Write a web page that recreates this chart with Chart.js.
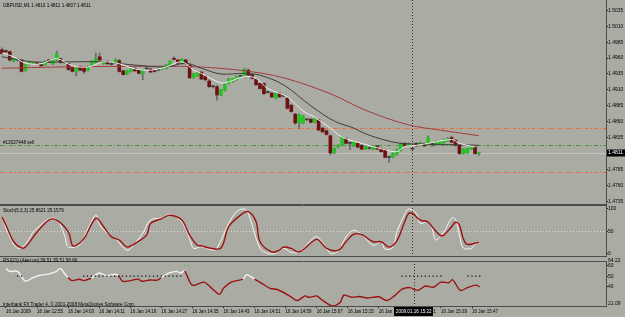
<!DOCTYPE html>
<html>
<head>
<meta charset="utf-8">
<title>GBPUSD,M1</title>
<script src="https://cdn.jsdelivr.net/npm/chart.js@4.4.1/dist/chart.umd.min.js"></script>
<style>
  html, body { margin:0; padding:0; width:625px; height:317px; overflow:hidden; background:#aaaca4; }
  canvas { position:absolute; left:0; display:block; }
  #mainCv { top:0; }
  #stochCv { top:205px; }
  #rsiCv { top:257px; }
</style>
</head>
<body>
<canvas id="mainCv" width="625" height="205"></canvas>
<canvas id="stochCv" width="625" height="52"></canvas>
<canvas id="rsiCv" width="625" height="60"></canvas>
<script>
/* MT4 style GBPUSD M1 chart: candles + 3 MAs, Stoch(5,3,3), RSI(21) */
(function(){
  // ---- price data, one entry per M1 bar ----
  const symbol = 'GBPUSD', period = 'M1';
  const opens = [
    1.4973,1.4971,1.4970,1.4955,1.4957,1.4957,1.4940,1.4950,1.4951,1.4952,
    1.4950,1.4949,1.4957,1.4951,1.4957,1.4959,1.4953,1.4951,1.4945,1.4938,
    1.4947,1.4946,1.4941,1.4949,1.4953,1.4962,1.4951,1.4955,1.4950,1.4953,
    1.4956,1.4940,1.4935,1.4939,1.4944,1.4941,1.4935,1.4943,1.4943,1.4941,
    1.4941,1.4943,1.4944,1.4949,1.4959,1.4957,1.4951,1.4957,1.4949,1.4929,
    1.4932,1.4938,1.4932,1.4924,1.4915,1.4915,1.4902,1.4909,1.4920,1.4923,
    1.4926,1.4931,1.4931,1.4941,1.4934,1.4927,1.4920,1.4920,1.4906,1.4905,
    1.4897,1.4905,1.4900,1.4897,1.4886,1.4872,1.4858,1.4858,1.4863,1.4864,
    1.4859,1.4863,1.4850,1.4846,1.4838,1.4811,1.4820,1.4823,1.4834,1.4826,
    1.4822,1.4826,1.4823,1.4817,1.4818,1.4817,1.4822,1.4818,1.4816,1.4804,
    1.4804,1.4809,1.4815,1.4826,1.4823,1.4817,1.4826,1.4823,1.4826,1.4824,
    1.4826,1.4824,1.4826,1.4827,1.4830,1.4835,1.4831,1.4823,1.4810,1.4811,
    1.4817,1.4820,1.4810
  ];
  const highs = [
    1.4976,1.4973,1.4971,1.4959,1.4958,1.4958,1.4951,1.4954,1.4953,1.4953,
    1.4951,1.4956,1.4958,1.4959,1.4971,1.4960,1.4955,1.4952,1.4946,1.4946,
    1.4948,1.4947,1.4948,1.4956,1.4968,1.4968,1.4955,1.4956,1.4951,1.4959,
    1.4958,1.4941,1.4941,1.4944,1.4945,1.4942,1.4942,1.4944,1.4944,1.4942,
    1.4942,1.4947,1.4950,1.4956,1.4962,1.4958,1.4959,1.4958,1.4950,1.4936,
    1.4938,1.4939,1.4933,1.4926,1.4917,1.4917,1.4911,1.4920,1.4928,1.4928,
    1.4932,1.4933,1.4944,1.4943,1.4935,1.4928,1.4921,1.4921,1.4907,1.4906,
    1.4906,1.4906,1.4902,1.4898,1.4887,1.4873,1.4872,1.4870,1.4864,1.4865,
    1.4866,1.4864,1.4851,1.4847,1.4839,1.4819,1.4824,1.4837,1.4835,1.4828,
    1.4829,1.4827,1.4824,1.4822,1.4819,1.4823,1.4823,1.4819,1.4817,1.4805,
    1.4811,1.4817,1.4827,1.4827,1.4827,1.4819,1.4827,1.4828,1.4827,1.4838,
    1.4827,1.4830,1.4830,1.4833,1.4835,1.4837,1.4832,1.4824,1.4818,1.4819,
    1.4822,1.4821,1.4811
  ];
  const lows = [
    1.4966,1.4968,1.4955,1.4954,1.4955,1.4938,1.4939,1.4949,1.4950,1.4950,
    1.4947,1.4948,1.4953,1.4950,1.4956,1.4952,1.4952,1.4941,1.4938,1.4932,
    1.4940,1.4936,1.4940,1.4948,1.4952,1.4956,1.4950,1.4950,1.4949,1.4952,
    1.4938,1.4933,1.4934,1.4938,1.4939,1.4935,1.4926,1.4942,1.4937,1.4938,
    1.4940,1.4942,1.4943,1.4948,1.4957,1.4951,1.4950,1.4950,1.4928,1.4928,
    1.4931,1.4926,1.4924,1.4914,1.4913,1.4894,1.4901,1.4908,1.4919,1.4922,
    1.4925,1.4930,1.4930,1.4932,1.4927,1.4917,1.4911,1.4903,1.4905,1.4898,
    1.4896,1.4898,1.4899,1.4880,1.4875,1.4856,1.4850,1.4857,1.4862,1.4858,
    1.4858,1.4846,1.4843,1.4839,1.4808,1.4810,1.4819,1.4822,1.4825,1.4816,
    1.4821,1.4819,1.4816,1.4816,1.4817,1.4816,1.4816,1.4812,1.4803,1.4796,
    1.4803,1.4808,1.4814,1.4821,1.4822,1.4816,1.4821,1.4822,1.4821,1.4823,
    1.4821,1.4823,1.4825,1.4826,1.4829,1.4827,1.4822,1.4809,1.4809,1.4810,
    1.4816,1.4809,1.4807
  ];
  const closes = [
    1.4967,1.4970,1.4957,1.4958,1.4957,1.4939,1.4949,1.4953,1.4952,1.4951,
    1.4948,1.4955,1.4954,1.4958,1.4967,1.4953,1.4953,1.4942,1.4939,1.4945,
    1.4941,1.4939,1.4947,1.4955,1.4959,1.4957,1.4954,1.4951,1.4950,1.4957,
    1.4939,1.4934,1.4940,1.4943,1.4940,1.4936,1.4941,1.4943,1.4938,1.4939,
    1.4941,1.4946,1.4949,1.4955,1.4958,1.4952,1.4958,1.4951,1.4929,1.4935,
    1.4937,1.4927,1.4926,1.4915,1.4915,1.4902,1.4910,1.4919,1.4927,1.4927,
    1.4931,1.4931,1.4942,1.4933,1.4928,1.4918,1.4912,1.4904,1.4906,1.4899,
    1.4905,1.4899,1.4900,1.4881,1.4876,1.4858,1.4871,1.4869,1.4863,1.4859,
    1.4865,1.4847,1.4844,1.4840,1.4811,1.4818,1.4823,1.4836,1.4826,1.4826,
    1.4828,1.4820,1.4817,1.4821,1.4818,1.4822,1.4817,1.4813,1.4804,1.4804,
    1.4810,1.4816,1.4826,1.4822,1.4826,1.4817,1.4822,1.4827,1.4822,1.4835,
    1.4824,1.4829,1.4829,1.4832,1.4833,1.4828,1.4823,1.4810,1.4817,1.4818,
    1.4821,1.4810,1.4811
  ];

  // moving averages, [bar, price]
  const maFast = [[0,1.4968],[3,1.4962],[6,1.4952],[10,1.4951],[14,1.4959],[18,1.4948],[22,1.4946],
    [26,1.4954],[30,1.4951],[34,1.4943],[38,1.4941],[42,1.4946],[46,1.4954],[49,1.4941],[51,1.4936],
    [55,1.4923],[57,1.4921],[62,1.4931],[65,1.4928],[68,1.4912],[73,1.4899],[77,1.4877],[80,1.4867],
    [84,1.4850],[87,1.4836],[92,1.4826],[98,1.4816],[101,1.4813],[103,1.4821],[105,1.4822],
    [109,1.4826],[115,1.4832],[117,1.4826],[121,1.4820]];
  const maMid = [[0,1.4962],[8,1.4954],[17,1.4954],[25,1.4954],[34,1.4949],[42,1.4946],[47,1.4952],
    [51,1.4944],[56,1.4935],[62,1.4936],[66,1.4933],[72,1.4918],[79,1.4885],[85,1.4861],[90,1.4850],
    [93,1.4841],[98,1.4831],[102,1.4826],[107,1.4825],[115,1.4824],[122,1.4823]];
  const maSlow = [[0,1.4944],[15,1.4946],[31,1.4947],[46,1.4947],[51,1.4946],[62,1.4940],[72,1.4929],
    [84,1.4904],[93,1.4878],[104,1.4855],[112,1.4847],[122,1.4838]];

  const priceTicks = [1.4735,1.4760,1.4785,1.4810,1.4835,1.4860,1.4885,1.4910,1.4935,1.4960,1.4985,1.5010,1.5035];
  const tpLevel = 1.4850, slLevel = 1.4781, orderLevel = 1.4823;
  const orderText = '#13027448 sell';

  // Stochastic(5,3,3), [bar, value]
  const stochMain = [[0,82],[2,37],[4,11],[6,20],[8,48],[10,64],[12,77],[14,77],[16,41],[17,14],[20,20],
    [22,56],[24,86],[25,64],[28,37],[29,33],[32,7],[34,22],[36,45],[38,75],[41,80],[43,88],[46,71],
    [48,33],[49,11],[51,15],[54,7],[55,11],[58,67],[60,94],[62,100],[63,90],[66,11],[68,0],[70,0],
    [72,11],[74,2],[76,3],[80,37],[81,35],[84,0],[86,5],[88,37],[90,52],[92,42],[95,18],[97,27],
    [98,9],[100,14],[101,48],[103,88],[104,100],[106,90],[107,67],[109,72],[110,56],[111,30],
    [113,48],[115,79],[116,77],[117,41],[118,12],[120,11],[121,20],[122,25.86]];
  const stochSignal = [[0,82],[1,64],[3,26],[5,12],[6,14],[9,48],[12,75],[14,75],[17,48],[18,18],
    [19,18],[21,33],[24,79],[26,60],[28,37],[30,30],[32,14],[34,22],[37,41],[38,67],[41,79],[43,86],
    [46,75],[48,41],[50,18],[51,17],[53,12],[56,12],[58,60],[61,86],[63,94],[65,71],[66,26],[69,3],
    [71,7],[72,14],[74,11],[76,3],[80,30],[81,30],[83,11],[86,7],[88,26],[90,43],[92,42],[95,26],
    [97,26],[99,14],[101,28],[103,71],[104,90],[105,90],[107,75],[109,71],[110,60],[112,41],[113,41],
    [115,60],[116,70],[117,64],[118,33],[119,20],[122,25.16]];
  const stochTicks = [0, 50, 100];
  const stochLevel = 50;
  const stochTitle = 'Stoch(5,3,3) 25.8621 25.1579';

  // RSI(21)
  const rsiBars = [0,1,3,5,7,9,11,13,14,15,16,17,19,20,22,23,24,26,28,29,30,32,34,35,37,39,40,42,44,45,
    46,48,51,53,55,56,58,61,62,64,66,68,70,73,75,77,78,80,81,84,86,87,89,91,93,96,98,100,102,104,
    106,108,110,112,114,115,117,119,121,122];
  const rsiValues = [57.5,54.6,54.6,45.1,48.6,51.0,52.0,54.6,57.5,53.0,48.6,45.7,47.0,45.7,48.0,51.0,
    53.1,50.5,51.8,50.5,45.1,45.7,47.1,45.1,46.2,46.2,48.6,53.1,54.6,53.0,55.0,41.2,44.2,38.2,32.3,
    38.2,44.2,47.1,51.5,47.1,42.7,38.2,36.8,30.9,26.4,30.9,29.5,30.9,28.0,21.09,24.2,31.5,29.5,30.3,
    28.9,30.0,26.4,30.9,37.4,38.9,36.2,40.4,39.2,44.2,43.6,46.5,36.2,39.2,41.3,39.51];
  const rsiUp = [1,1,1,1,1,1,1,1,1,1,0,0,0,0,1,1,1,1,1,0,0,0,0,0,0,0,1,1,1,1,
    0,0,0,0,0,0,0,1,1,0,0,0,0,0,0,0,0,0,0,0,0,0,0,0,0,0,0,0,0,0,0,0,0,0,0,0,0,0,0,0];
  const rsiAlertBars = [3,4,20,21,22,23,24,25,26,27,28,29,30,31,32,33,34,35,36,37,38,39,40,41,42,43,44,45,
    102,103,104,105,106,107,108,109,110,111,112,119,120,121,122];
  const rsiAlertLevel = 50;
  const rsiArrowBars = [46,47];
  const rsiArrowLevel = 60.5;
  const rsiTicks = [40, 50, 60];
  const rsiMin = 21.09, rsiMax = 64.22;
  const rsiTitle = 'RSI(21) (Alert on) 39.51 39.51 58.80';
  const credit = 'Interbank FX Trader 4, \u00a9 2001-2008 MetaQuotes Software Corp.';

  // time axis, a label every 8 bars
  const timeBars = [0,8,16,24,32,40,48,56,64,72,80,88,96,104,112,120];
  const timeLabels = ['16 Jan 2009','16 Jan 12:55','16 Jan 14:03','16 Jan 14:11','16 Jan 14:19',
    '16 Jan 14:27','16 Jan 14:35','16 Jan 14:43','16 Jan 14:51','16 Jan 14:59','16 Jan 15:07',
    '16 Jan 15:15','16 Jan 15:23','16 Jan 15:31','16 Jan 15:39','16 Jan 15:47'];
  const cursorBar = 105, cursorTime = '2009.01.16 15:22';

  // ---- look ----
  const FONT = '"Liberation Sans", Arial, sans-serif';
  const INK = '#000';
  const FRAME = '#4c4c4c';
  const SLOTS = 155;               // bar slots across the window (incl. right shift)
  const BULL = '#22c322', BEAR = '#6c1212', DOJI = '#3a3a3a', WICK = '#6a6a6a';
  const WHITE = '#f4f4f4', DARKRED = '#9c1010';
  const ORANGE = '#f06a38', GREEN = '#3f9a3f';

  Chart.defaults.font.family = FONT;
  Chart.defaults.animation = false;

  const pts = arr => arr.map(([x, y]) => ({ x, y }));

  function xAxis(show){
    return {
      type: 'linear', min: -0.5, max: SLOTS - 0.5, display: show, offset: false,
      afterBuildTicks: s => { s.ticks = timeBars.map(v => ({ value: v })); },
      afterFit: s => { s.height = show ? 11 : 0; s.paddingLeft = 0; s.paddingRight = 0; },
      grid: { display: true, offset: false, drawOnChartArea: false, drawTicks: true, tickLength: 2, color: '#222' },
      border: { display: false },
      ticks: { autoSkip: false, maxRotation: 0, minRotation: 0, align: 'start', padding: 1, color: INK,
        font: { family: FONT, size: 4.5 }, callback: (v, i) => timeLabels[i] }
    };
  }
  function yAxis(min, max, ticks, fmt){
    return {
      position: 'right', min, max,
      afterBuildTicks: s => { s.ticks = ticks.map(v => ({ value: v })); },
      afterFit: s => { s.width = 19; s.paddingTop = 0; s.paddingBottom = 0; },
      grid: { display: true, drawOnChartArea: false, drawTicks: true, tickLength: 2, color: '#222' },
      border: { display: false },
      ticks: { autoSkip: false, padding: 0, color: INK, font: { family: FONT, size: 5 }, callback: fmt }
    };
  }
  const baseOpts = {
    responsive: false, devicePixelRatio: 1, animation: false, events: [],
    layout: { padding: 0 },
    plugins: { legend: { display: false }, tooltip: { enabled: false } }
  };

  function hline(ctx, a, py, color, dash){
    const yy = Math.round(py) + 0.5;
    ctx.save(); ctx.strokeStyle = color; ctx.lineWidth = 1; ctx.setLineDash(dash);
    ctx.beginPath(); ctx.moveTo(a.left, yy); ctx.lineTo(a.right, yy); ctx.stroke(); ctx.restore();
  }
  function cursor(chart){
    const { ctx, chartArea: a, scales: { x } } = chart;
    const xx = Math.round(x.getPixelForValue(cursorBar)) + 0.5;
    ctx.save(); ctx.strokeStyle = '#2c2c2c'; ctx.lineWidth = 1; ctx.setLineDash([1, 2]);
    ctx.beginPath(); ctx.moveTo(xx, a.top); ctx.lineTo(xx, a.bottom); ctx.stroke(); ctx.restore();
  }
  function frame(chart, top, bottom){
    const { ctx, chartArea: a } = chart;
    ctx.save(); ctx.strokeStyle = FRAME; ctx.lineWidth = 1; ctx.beginPath();
    if(top){ ctx.moveTo(0, a.top + 0.5); ctx.lineTo(a.right + 1, a.top + 0.5); }
    if(bottom){ ctx.moveTo(0, a.bottom - 0.5); ctx.lineTo(a.right + 1, a.bottom - 0.5); }
    ctx.moveTo(a.right + 0.5, a.top); ctx.lineTo(a.right + 0.5, a.bottom);
    ctx.stroke(); ctx.restore();
  }
  function text(ctx, str, x, y, color, size, align){
    ctx.save(); ctx.font = `${size || 4.6}px ${FONT}`; ctx.fillStyle = color || INK;
    ctx.textBaseline = 'middle'; ctx.textAlign = align || 'left';
    ctx.fillText(str, x, y); ctx.restore();
  }

  // ---- main price window ----
  const barIdx = opens.map((_, i) => i);
  const last = opens.length - 1;
  const bid = closes[last];

  const mainDeco = {
    id: 'mainDeco',
    beforeDatasetsDraw(chart){
      const { ctx, chartArea: a, scales: { y } } = chart;
      hline(ctx, a, y.getPixelForValue(bid), '#c4c4c4', []);
      hline(ctx, a, y.getPixelForValue(tpLevel), ORANGE, [4, 2, 1, 2]);
      hline(ctx, a, y.getPixelForValue(slLevel), ORANGE, [4, 2, 1, 2]);
      hline(ctx, a, y.getPixelForValue(orderLevel), GREEN, [4, 2, 1, 2]);
      cursor(chart);
    },
    afterDraw(chart){
      const { ctx, chartArea: a, scales: { y } } = chart;
      frame(chart, false, true);
      const f = v => v.toFixed(4);
      text(ctx, `${symbol},${period} ${f(opens[last])} ${f(highs[last])} ${f(lows[last])} ${f(closes[last])}`, 3, 5.5);
      text(ctx, orderText, 3, y.getPixelForValue(orderLevel) - 2.5);
      const by = Math.round(y.getPixelForValue(bid));
      ctx.save(); ctx.fillStyle = '#000'; ctx.fillRect(a.right + 1, by - 3.5, 625 - a.right - 1, 7); ctx.restore();
      text(ctx, f(bid), a.right + 2, by, '#fff', 5);
    }
  };

  new Chart(document.getElementById('mainCv'), {
    type: 'bar',
    data: {
      datasets: [
        { type: 'line', label: 'MA fast', data: pts(maFast), borderColor: '#ededed', borderWidth: 1, pointRadius: 0, tension: 0.35, order: 1 },
        { type: 'line', label: 'MA mid', data: pts(maMid), borderColor: '#3e3e3e', borderWidth: 1, pointRadius: 0, tension: 0.35, order: 2 },
        { type: 'line', label: 'MA slow', data: pts(maSlow), borderColor: '#a43c3c', borderWidth: 1, pointRadius: 0, tension: 0.35, order: 3 },
        { label: 'body', data: barIdx.map(i => ({ x: i, y: [opens[i], closes[i]] })),
          backgroundColor: barIdx.map(i => closes[i] > opens[i] ? BULL : closes[i] < opens[i] ? BEAR : DOJI),
          barThickness: 3, minBarLength: 1, grouped: false, order: 4 },
        { label: 'wick', data: barIdx.map(i => ({ x: i, y: [lows[i], highs[i]] })),
          backgroundColor: WICK, barThickness: 1, grouped: false, order: 5 }
      ]
    },
    options: Object.assign({}, baseOpts, {
      scales: {
        x: xAxis(false),
        y: yAxis(1.47292, 1.50512, priceTicks, v => v.toFixed(4))
      }
    }),
    plugins: [mainDeco]
  });

  // ---- stochastic window ----
  const stochDeco = {
    id: 'stochDeco',
    beforeDatasetsDraw(chart){
      const { ctx, chartArea: a, scales: { y } } = chart;
      hline(ctx, a, y.getPixelForValue(stochLevel), '#dcdcdc', [1, 2]);
      cursor(chart);
    },
    afterDraw(chart){
      frame(chart, true, true);
      text(chart.ctx, stochTitle, 3, 5.5);
    }
  };

  new Chart(document.getElementById('stochCv'), {
    type: 'line',
    data: {
      datasets: [
        { label: 'Signal', data: pts(stochSignal), borderColor: DARKRED, borderWidth: 1.4, pointRadius: 0, tension: 0.35, order: 1 },
        { label: 'Main', data: pts(stochMain), borderColor: WHITE, borderWidth: 1, pointRadius: 0, tension: 0.35, order: 2 }
      ]
    },
    options: Object.assign({}, baseOpts, {
      scales: {
        x: xAxis(false),
        y: yAxis(-8.4, 109, stochTicks, v => String(v))
      }
    }),
    plugins: [stochDeco]
  });

  // ---- RSI window + time axis ----
  const rsiDeco = {
    id: 'rsiDeco',
    beforeDatasetsDraw(chart){ cursor(chart); },
    afterDraw(chart){
      const { ctx, chartArea: a, scales: { x } } = chart;
      frame(chart, true, false);
      ctx.save(); ctx.strokeStyle = FRAME; ctx.beginPath();
      ctx.moveTo(0, a.bottom + 0.5); ctx.lineTo(a.right + 1, a.bottom + 0.5); ctx.stroke(); ctx.restore();
      text(ctx, rsiTitle, 3, 3.5);
      text(ctx, credit, 3, 47.3);
      text(ctx, rsiMax.toFixed(2), a.right + 2, 3.2, INK, 5);
      text(ctx, rsiMin.toFixed(2), a.right + 2, 47, INK, 5);
      // crosshair time tag on the time axis
      ctx.save(); ctx.font = `4.6px ${FONT}`;
      const w = ctx.measureText(cursorTime).width + 3;
      const cx = x.getPixelForValue(cursorBar);
      ctx.fillStyle = '#000'; ctx.fillRect(Math.round(cx - w / 2), a.bottom + 1, Math.round(w), 9);
      ctx.restore();
      text(ctx, cursorTime, cx, a.bottom + 5.5, '#fff', 4.6, 'center');
    }
  };

  new Chart(document.getElementById('rsiCv'), {
    type: 'line',
    data: {
      datasets: [
        { label: 'RSI', data: rsiBars.map((b, i) => ({ x: b, y: rsiValues[i] })),
          borderColor: DARKRED, borderWidth: 1.4, pointRadius: 0, tension: 0.3,
          segment: { borderColor: c => rsiUp[c.p0DataIndex] ? WHITE : DARKRED }, order: 2 },
        { label: 'alert', data: rsiAlertBars.map(b => ({ x: b, y: rsiAlertLevel })), showLine: false,
          pointStyle: 'rect', pointRadius: 0.9, pointBorderWidth: 0, pointBackgroundColor: '#111', order: 1 },
        { label: 'arrow', data: rsiArrowBars.map(b => ({ x: b, y: rsiArrowLevel })), showLine: false,
          pointStyle: 'rect', pointRadius: 0.9, pointBorderWidth: 0, pointBackgroundColor: '#35d835', order: 1 }
      ]
    },
    options: Object.assign({}, baseOpts, {
      scales: {
        x: xAxis(true),
        y: yAxis(rsiMin, 64.66, rsiTicks, v => String(v))
      }
    }),
    plugins: [rsiDeco]
  });
})();
</script>
</body>
</html>
